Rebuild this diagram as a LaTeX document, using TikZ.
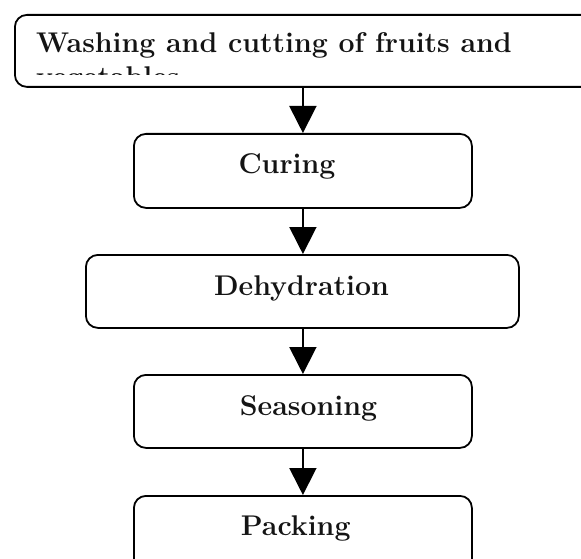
\documentclass[tikz,border=0pt]{standalone}
\usetikzlibrary{arrows.meta}
\begin{document}
\begin{tikzpicture}[x=1pt,y=-1pt,
  box/.style={draw=black, line width=1.8pt, rounded corners=12pt, fill=white, inner sep=0pt, anchor=north west},
  lbl/.style={font=\fontsize{28.5}{33}\selectfont\bfseries, text=black!92, inner sep=0pt, anchor=base},
  conn/.style={draw=black, line width=1.8pt, -{Triangle[width=27pt,length=27pt]}}]
\useasboundingbox (0,0) rectangle (581,559);
\clip (0,0) rectangle (581,559);
% boxes
\node[box, minimum width=640pt, minimum height=72pt] (wash) at (14,14) {};
\node[box, minimum width=338pt, minimum height=74pt] (curing) at (133,133) {};
\node[box, minimum width=433pt, minimum height=73pt] (dehyd) at (85,254) {};
\node[box, minimum width=338pt, minimum height=73pt] (season) at (133,374) {};
\node[box, minimum width=338pt, minimum height=90pt] (pack) at (133,495) {};
% labels
\begin{scope}
  \clip (14,14) rectangle (581,74.5);
  \node[lbl, anchor=base west] (washtxt) at (36,53) {Washing and cutting of fruits and};
  \node[lbl, anchor=base west] (washtxt2) at (36,87) {vegetables};
\end{scope}
\node[lbl] (curingtxt) at (287,173) {Curing};
\node[lbl] (dehydtxt) at (301.5,295) {Dehydration};
\node[lbl] (seasontxt) at (308.5,415) {Seasoning};
\node[lbl] (packtxt) at (295.7,535) {Packing};
% connectors
\draw[conn] (curing.north |- wash.south) -- (curing.north);
\draw[conn] (curing.south) -- (dehyd.north -| curing.south);
\draw[conn] (dehyd.south -| season.north) -- (season.north);
\draw[conn] (season.south) -- (pack.north -| season.south);
\end{tikzpicture}
\end{document}
